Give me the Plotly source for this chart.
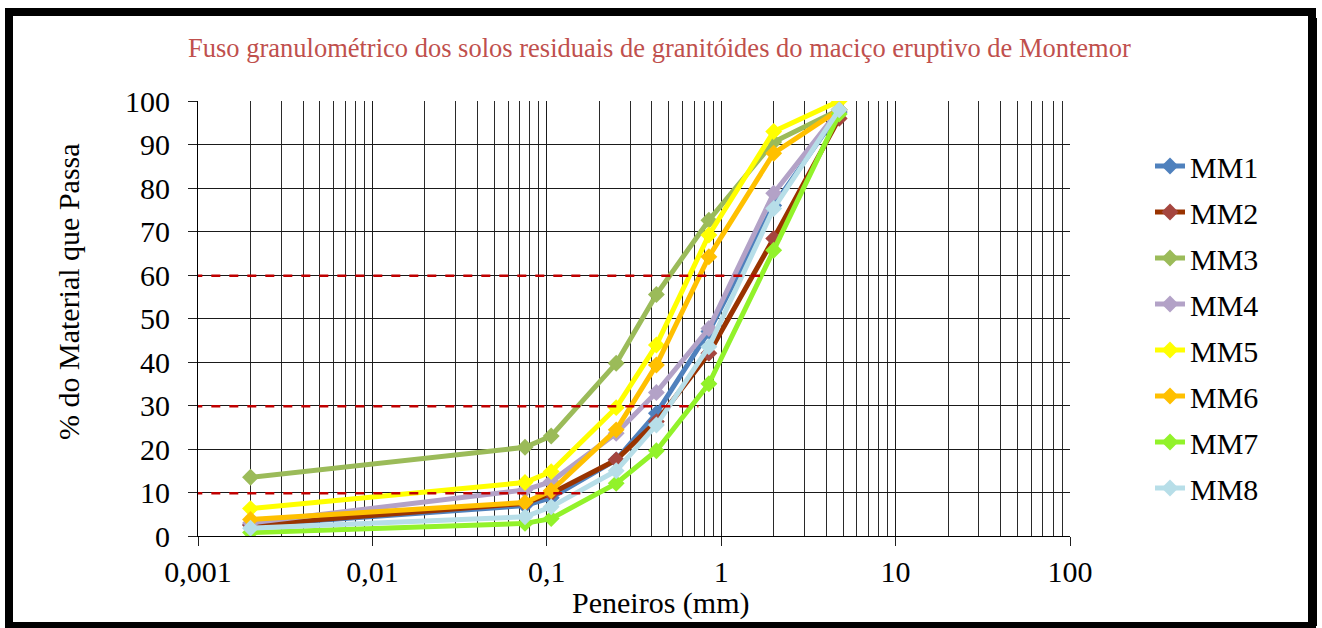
import plotly.graph_objects as go

sieves = [0.002, 0.075, 0.106, 0.25, 0.425, 0.85, 2.0, 4.75]
series_names = ["MM1", "MM2", "MM3", "MM4", "MM5", "MM6", "MM7", "MM8"]
MM1 = [2.5, 7.0, 8.8, 17.5, 28.2, 47.0, 76.0, 97.5]
MM2 = [2.5, 7.5, 9.8, 17.5, 26.3, 42.0, 68.4, 96.0]
MM3 = [13.5, 20.4, 23.0, 39.7, 55.5, 72.6, 90.6, 98.0]
MM4 = [3.0, 10.6, 12.5, 23.6, 33.0, 47.7, 78.8, 98.0]
MM5 = [6.3, 12.3, 14.8, 29.5, 43.9, 69.2, 93.0, 100.0]
MM6 = [3.8, 7.7, 10.4, 24.4, 39.3, 64.2, 88.0, 98.0]
MM7 = [0.8, 2.9, 4.0, 12.1, 19.6, 35.0, 65.7, 97.0]
MM8 = [1.8, 4.4, 6.7, 15.0, 25.5, 43.5, 75.3, 98.0]
values = [MM1, MM2, MM3, MM4, MM5, MM6, MM7, MM8]

line_colors = ["#4F81BD", "#993300", "#9BBB59", "#B3A2C7", "#FFFF00", "#FFC000", "#92F22A", "#B7DEE8"]
marker_colors = ["#4F81BD", "#A5463F", "#9BBB59", "#B3A2C7", "#FFFF00", "#FFC000", "#92F22A", "#B7DEE8"]

ref_levels = [59.8, 29.8, 9.8]
ref_start = 0.00094
ref_ends = [1.67, 0.74, 0.17]

x_tick_vals = [0.001, 0.01, 0.1, 1, 10, 100]
x_tick_text = ["0,001", "0,01", "0,1", "1", "10", "100"]
y_tick_vals = [0, 10, 20, 30, 40, 50, 60, 70, 80, 90, 100]

title_text = "Fuso granulométrico dos solos residuais de granitóides do maciço eruptivo de Montemor"
FONT = "Liberation Serif, Times New Roman, serif"

minor_vals = []
for e in [0.001, 0.01, 0.1, 1, 10]:
    for k in range(2, 10):
        minor_vals.append(round(e * k, 6))

fig = go.Figure()
for i, name in enumerate(series_names):
    fig.add_trace(go.Scatter(
        x=sieves, y=values[i], name=name, mode="lines+markers",
        line=dict(color=line_colors[i], width=5),
        marker=dict(symbol="diamond", size=13, color=marker_colors[i]),
        legendgroup=name,
    ))

for lvl, xe in zip(ref_levels, ref_ends):
    fig.add_trace(go.Scatter(
        x=[ref_start, xe], y=[lvl, lvl], mode="lines", showlegend=False,
        line=dict(color="#C00000", width=2.5, dash="dash"), hoverinfo="skip",
        cliponaxis=False,
    ))

L, R, T, B = 198, 1070, 101, 536
W, H = 1322, 628
def px(xp):
    return (xp - L) / (R - L)
def py(yp):
    return (B - yp) / (B - T)

fig.update_layout(
    width=W, height=H,
    margin=dict(l=L, r=W - R, t=T, b=H - B),
    paper_bgcolor="white", plot_bgcolor="white",
    font=dict(family=FONT, size=30, color="black"),
    showlegend=True,
    legend=dict(x=px(1150), y=py(140), xanchor="left", yanchor="top",
                font=dict(family=FONT, size=30), tracegroupgap=4,
                bgcolor="rgba(0,0,0,0)"),
    xaxis=dict(type="log", range=[-3, 2], tickmode="array", tickvals=x_tick_vals,
               ticktext=x_tick_text, ticks="outside", ticklen=9, tickcolor="#202020",
               showgrid=True, gridcolor="#1a1a1a", gridwidth=1.2,
               showline=True, linecolor="black", linewidth=1.2, zeroline=False,
               tickfont=dict(family=FONT, size=30),
               minor=dict(tickmode="array", tickvals=minor_vals, showgrid=True,
                          gridcolor="#2a2a2a", gridwidth=1.1, ticks="")),
    yaxis=dict(range=[0, 100], tickmode="array", tickvals=y_tick_vals,
               ticks="outside", ticklen=9, tickcolor="#202020",
               showgrid=True, gridcolor="#1a1a1a", gridwidth=1.2,
               showline=True, linecolor="black", linewidth=1.2, zeroline=False,
               tickfont=dict(family=FONT, size=30), ticklabelstandoff=12),
    annotations=[
        dict(text=title_text, x=px(659.5), y=py(48), xref="paper", yref="paper",
             showarrow=False, font=dict(family=FONT, size=26.5, color="#C0504D"),
             xanchor="center", yanchor="middle"),
        dict(text="% do Material que Passa", x=px(68), y=py(292), xref="paper", yref="paper",
             showarrow=False, textangle=-90, font=dict(family=FONT, size=30),
             xanchor="center", yanchor="middle"),
        dict(text="Peneiros (mm)", x=px(660), y=py(603), xref="paper", yref="paper",
             showarrow=False, font=dict(family=FONT, size=30),
             xanchor="center", yanchor="middle"),
    ],
    shapes=[
        dict(type="rect", xref="paper", yref="paper",
             x0=px(9), x1=px(1312), y0=py(626), y1=py(12),
             line=dict(color="black", width=8), fillcolor="rgba(0,0,0,0)", layer="above"),
        dict(type="line", xref="paper", yref="paper",
             x0=px(1315), x1=px(1315), y0=py(626), y1=py(18),
             line=dict(color="black", width=4)),
    ],
)

fig.write_html("out.html")
